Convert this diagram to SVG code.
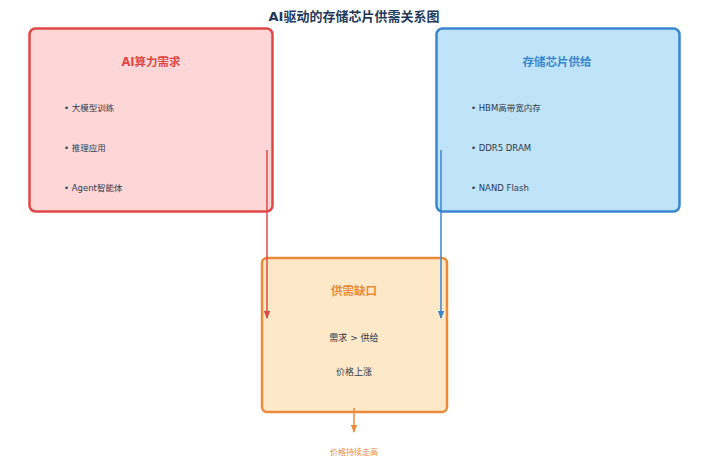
<svg xmlns="http://www.w3.org/2000/svg" width="709" height="470" viewBox="0 0 709 470">
<style>
text{font-family:"DejaVu Sans","Noto Sans CJK SC",sans-serif}
.t{font-size:13px;font-weight:bold;fill:#1f3a5a;text-anchor:middle}
.h{font-size:11.5px;font-weight:bold;text-anchor:middle}
.b{font-size:8.5px;fill:#2f3a4d}
.c{font-size:9px;fill:#2f3a4d;text-anchor:middle}
</style>
<defs>
<marker id="ar" viewBox="0 0 8 8" refX="7" refY="4" markerWidth="8" markerHeight="8" markerUnits="userSpaceOnUse" orient="auto"><path d="M0,0.8 L8,4 L0,7.2 z" fill="#e04848"/></marker>
<marker id="ab" viewBox="0 0 8 8" refX="7" refY="4" markerWidth="8" markerHeight="8" markerUnits="userSpaceOnUse" orient="auto"><path d="M0,0.8 L8,4 L0,7.2 z" fill="#3a86d0"/></marker>
<marker id="ao" viewBox="0 0 8 8" refX="7" refY="4" markerWidth="8" markerHeight="8" markerUnits="userSpaceOnUse" orient="auto"><path d="M0,0.8 L8,4 L0,7.2 z" fill="#eb8a3a"/></marker>
</defs>
<rect width="709" height="470" fill="#ffffff"/>
<text class="t" x="354" y="21">AI驱动的存储芯片供需关系图</text>
<g id="demand">
<rect x="29.5" y="28.5" width="243" height="183" rx="6" fill="#fdd7d7" stroke="#e04848" stroke-width="2.5"/>
<text class="h" x="151" y="66" fill="#e04848">AI算力需求</text>
<text class="b" x="64" y="111">• 大模型训练</text>
<text class="b" x="64" y="151">• 推理应用</text>
<text class="b" x="64" y="191">• Agent智能体</text>
</g>
<g id="supply">
<rect x="436.5" y="28.5" width="243" height="183" rx="6" fill="#bfe3f8" stroke="#3a86d0" stroke-width="2.5"/>
<text class="h" x="557" y="66" fill="#3a86d0">存储芯片供给</text>
<text class="b" x="471" y="111">• HBM高带宽内存</text>
<text class="b" x="471" y="151">• DDR5 DRAM</text>
<text class="b" x="471" y="191">• NAND Flash</text>
</g>
<g id="gap">
<rect x="262" y="258" width="185" height="154" rx="5" fill="#fde8c8" stroke="#eb8a3a" stroke-width="2.5"/>
<text class="h" x="354" y="295" fill="#eb8a3a">供需缺口</text>
<text class="c" x="354" y="341">需求 &gt; 供给</text>
<text class="c" x="354" y="375">价格上涨</text>
</g>
<g id="connectors" fill="none" stroke-width="1.5">
<line x1="267" y1="150" x2="267" y2="318" stroke="#e04848" marker-end="url(#ar)"/>
<line x1="441" y1="150" x2="441" y2="318" stroke="#3a86d0" marker-end="url(#ab)"/>
<line x1="354" y1="408" x2="354" y2="432" stroke="#eb8a3a" marker-end="url(#ao)"/>
</g>
<text x="354" y="455" font-size="8" fill="#eb8a3a" text-anchor="middle">价格持续走高</text>
</svg>
